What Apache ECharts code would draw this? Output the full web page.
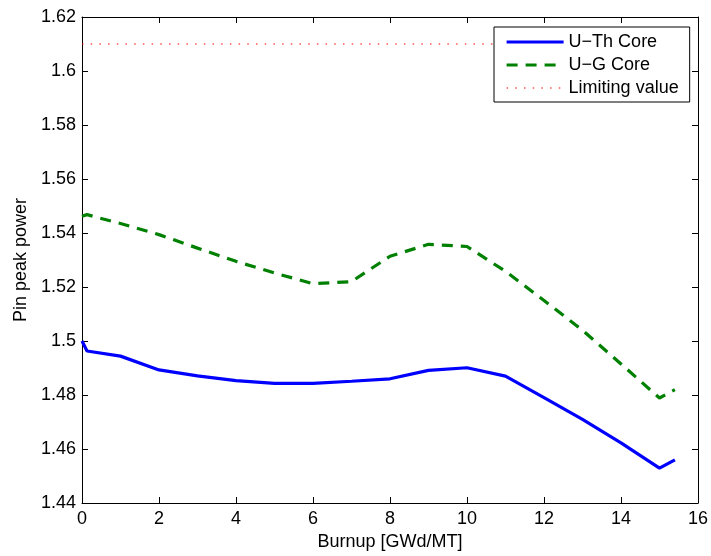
<!DOCTYPE html>
<html>
<head>
<meta charset="utf-8">
<script src="https://cdn.jsdelivr.net/npm/echarts@6/dist/echarts.min.js"></script>
<style>
html,body{margin:0;padding:0;background:#fff;}
#chart{width:711px;height:556px;}
</style>
</head>
<body>
<div id="chart"></div>
<script>
var burnup = [0, 0.13, 1, 2, 3, 4, 5, 6, 7, 8, 9, 10, 11, 12, 13, 14, 15, 15.4];
var uThCore = [1.5000, 1.4963, 1.4944, 1.4893, 1.4871, 1.4853, 1.4843, 1.4843, 1.4851, 1.4860, 1.4891, 1.4901, 1.4870, 1.4790, 1.4710, 1.4623, 1.4529, 1.4560];
var uGCore = [1.5462, 1.5468, 1.5435, 1.5394, 1.5344, 1.5295, 1.5252, 1.5212, 1.5220, 1.5314, 1.5358, 1.5350, 1.5258, 1.5150, 1.5040, 1.4915, 1.4789, 1.4820];
var limitX = [0, 15.4];
var limitValue = [1.61, 1.61];
var xTicks = [0, 2, 4, 6, 8, 10, 12, 14, 16];
var yTicks = [1.44, 1.46, 1.48, 1.50, 1.52, 1.54, 1.56, 1.58, 1.60, 1.62];
var seriesNames = ['U\u2212Th Core', 'U\u2212G Core', 'Limiting value'];

function pairs(xs, ys) { return xs.map(function (x, i) { return [x, ys[i]]; }); }

var FONT = 'Liberation Sans, Arial, Helvetica, sans-serif';
var chart = echarts.init(document.getElementById('chart'), null, {renderer: 'canvas'});
var axisLine = {show: true, onZero: false, lineStyle: {color: '#000', width: 1}};
var tickIn = {show: true, inside: true, length: 6, lineStyle: {color: '#000', width: 1}};
var fmt = function (v) { return String(parseFloat(Number(v).toFixed(2))); };

var styles = [
  {color: '#0000ff', width: 3.2, type: 'solid'},
  {color: '#008000', width: 3.2, type: [11, 8]},
  {color: '#ff0000', width: 1.2, type: [1.5, 7.2]}
];

chart.setOption({
  animation: false,
  backgroundColor: '#fff',
  grid: {left: 82, right: 12, top: 17, bottom: 53, containLabel: false},
  legend: {
    orient: 'vertical',
    left: 494, top: 27,
    padding: [6, 11, 5, 11],
    itemWidth: 57, itemHeight: 18, itemGap: 5,
    backgroundColor: '#fff',
    borderColor: '#000', borderWidth: 1, borderRadius: 0,
    itemStyle: {opacity: 0},
    textStyle: {fontFamily: FONT, fontSize: 18, color: '#000', lineHeight: 18},
    data: seriesNames.map(function (n, i) {
      return {name: n, lineStyle: {color: styles[i].color, width: styles[i].width, type: styles[i].type}};
    })
  },
  xAxis: [{
    type: 'value', min: xTicks[0], max: xTicks[xTicks.length - 1], interval: 2,
    name: 'Burnup [GWd/MT]', nameLocation: 'middle', nameGap: 28,
    nameTextStyle: {fontFamily: FONT, fontSize: 18, color: '#000'},
    axisLine: axisLine, axisTick: tickIn,
    axisLabel: {fontFamily: FONT, fontSize: 18, color: '#000', margin: 7, formatter: fmt},
    splitLine: {show: false}
  }, {
    type: 'value', position: 'top', min: xTicks[0], max: xTicks[xTicks.length - 1], interval: 2,
    axisLine: axisLine, axisTick: tickIn, axisLabel: {show: false}, splitLine: {show: false}
  }],
  yAxis: [{
    type: 'value', min: yTicks[0], max: yTicks[yTicks.length - 1], interval: 0.02,
    name: 'Pin peak power', nameLocation: 'middle', nameGap: 52,
    nameTextStyle: {fontFamily: FONT, fontSize: 18, color: '#000'},
    axisLine: axisLine, axisTick: tickIn,
    axisLabel: {fontFamily: FONT, fontSize: 18, color: '#000', margin: 6, formatter: fmt},
    splitLine: {show: false}
  }, {
    type: 'value', position: 'right', min: yTicks[0], max: yTicks[yTicks.length - 1], interval: 0.02,
    axisLine: axisLine, axisTick: tickIn, axisLabel: {show: false}, splitLine: {show: false}
  }],
  series: [{
    name: seriesNames[0], type: 'line', data: pairs(burnup, uThCore),
    symbol: 'none', showSymbol: false, smooth: false,
    lineStyle: styles[0], itemStyle: {color: styles[0].color}
  }, {
    name: seriesNames[1], type: 'line', data: pairs(burnup, uGCore),
    symbol: 'none', showSymbol: false, smooth: false,
    lineStyle: styles[1], itemStyle: {color: styles[1].color}
  }, {
    name: seriesNames[2], type: 'line', data: pairs(limitX, limitValue),
    symbol: 'none', showSymbol: false,
    lineStyle: styles[2], itemStyle: {color: styles[2].color}
  }]
});
</script>
</body>
</html>
